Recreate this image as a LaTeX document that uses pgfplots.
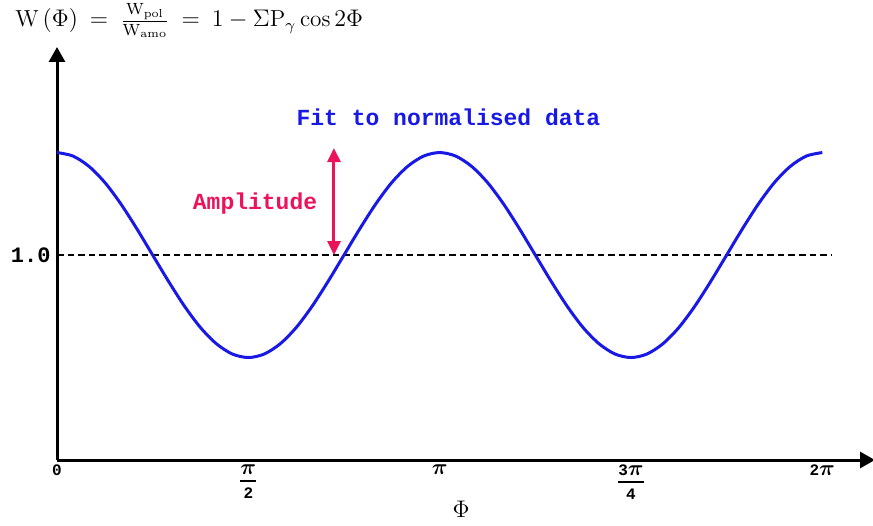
\documentclass[border=0pt]{standalone}
\usepackage{amsmath}
\usepackage{pgfplots}
\pgfplotsset{compat=1.18}
\usetikzlibrary{arrows.meta}
\usepackage{fontspec}
\newfontfamily\cour{Liberation Mono}
\definecolor{fitblue}{RGB}{25,25,230}
\definecolor{amppink}{RGB}{235,20,90}
\newcommand{\cb}{\cour\bfseries}
\newcommand{\bpi}{\mbox{\fontsize{10.5}{11}\selectfont$\boldsymbol{\pi}$}}
\newcommand{\fr}[2]{$\genfrac{}{}{0.9pt}{0}{#1}{#2}$}
\pgfplotstableread{
x y
0.0000 1.500
0.1309 1.483
0.2618 1.433
0.3927 1.354
0.5236 1.250
0.6545 1.129
0.7854 1.000
0.9163 0.871
1.0472 0.750
1.1781 0.646
1.3090 0.567
1.4399 0.517
1.5708 0.500
1.7017 0.517
1.8326 0.567
1.9635 0.646
2.0944 0.750
2.2253 0.871
2.3562 1.000
2.4871 1.129
2.6180 1.250
2.7489 1.354
2.8798 1.433
3.0107 1.483
3.1416 1.500
3.2725 1.483
3.4034 1.433
3.5343 1.354
3.6652 1.250
3.7961 1.129
3.9270 1.000
4.0579 0.871
4.1888 0.750
4.3197 0.646
4.4506 0.567
4.5815 0.517
4.7124 0.500
4.8433 0.517
4.9742 0.567
5.1051 0.646
5.2360 0.750
5.3669 0.871
5.4978 1.000
5.6287 1.129
5.7596 1.250
5.8905 1.354
6.0214 1.433
6.1523 1.483
6.2832 1.500
}\fitdata
\begin{document}
\begin{tikzpicture}
\path[use as bounding box] (-28.5pt,-32.5pt) rectangle (408pt,230pt);
\begin{axis}[
  at={(0,0)}, anchor=south west,
  scale only axis, width=409pt, height=206.5pt,
  xmin=0, xmax=6.716, ymin=0, ymax=2.015,
  axis lines=left,
  axis line style={line width=1.5pt, -{Triangle[length=7.5pt,width=8pt]}},
  major tick length=0pt,
  xtick={0,1.5708,3.1416,4.7124,6.2832},
  xticklabels={{\cb 0}, {\fr{\bpi}{\mbox{\cb 2}}}, {\bpi}, {\fr{\mbox{\cb 3}\bpi}{\mbox{\cb 4}}}, {{\cb 2}\bpi}},
  xticklabel style={font=\fontsize{8}{9}\selectfont, anchor=north, inner sep=2pt},
  ytick={1}, yticklabels={\cb 1.0},
  yticklabel style={font=\fontsize{11}{12}\selectfont, inner sep=3pt},
  xlabel={$\Phi$},
  xlabel style={at={(rel axis cs:0.494,0)}, anchor=center, yshift=-24.5pt, font=\fontsize{12}{14}\selectfont},
  clip=false,
]
\addplot[black, line width=1.2pt, dash pattern=on 3.3pt off 2pt] coordinates {(0,1) (6.363,1)};
\addplot[fitblue, line width=1.5pt, smooth] table[x=x,y=y] {\fitdata};
\addplot[amppink, line width=1.5pt, {Triangle[length=7pt,width=6.5pt]}-{Triangle[length=7pt,width=6.5pt]}] coordinates {(2.274,1.0) (2.274,1.522)};
\node[text=fitblue, font=\cb\fontsize{11.5}{12}\selectfont] at (axis cs:3.214,1.673) {Fit to normalised data};
\node[text=amppink, font=\cb\fontsize{11.5}{12}\selectfont] at (axis cs:1.626,1.249) {Amplitude};
\end{axis}
\node[anchor=base west, inner sep=0pt, font=\fontsize{11.6}{13}\selectfont] at (-21pt,216.5pt) {$\mathrm{W}\,(\Phi) \:=\: \frac{\mathrm{W_{pol}}}{\mathrm{W_{amo}}} \:=\: 1-\Sigma\mathrm{P}_{\gamma}\cos 2\Phi$};
\end{tikzpicture}
\end{document}
